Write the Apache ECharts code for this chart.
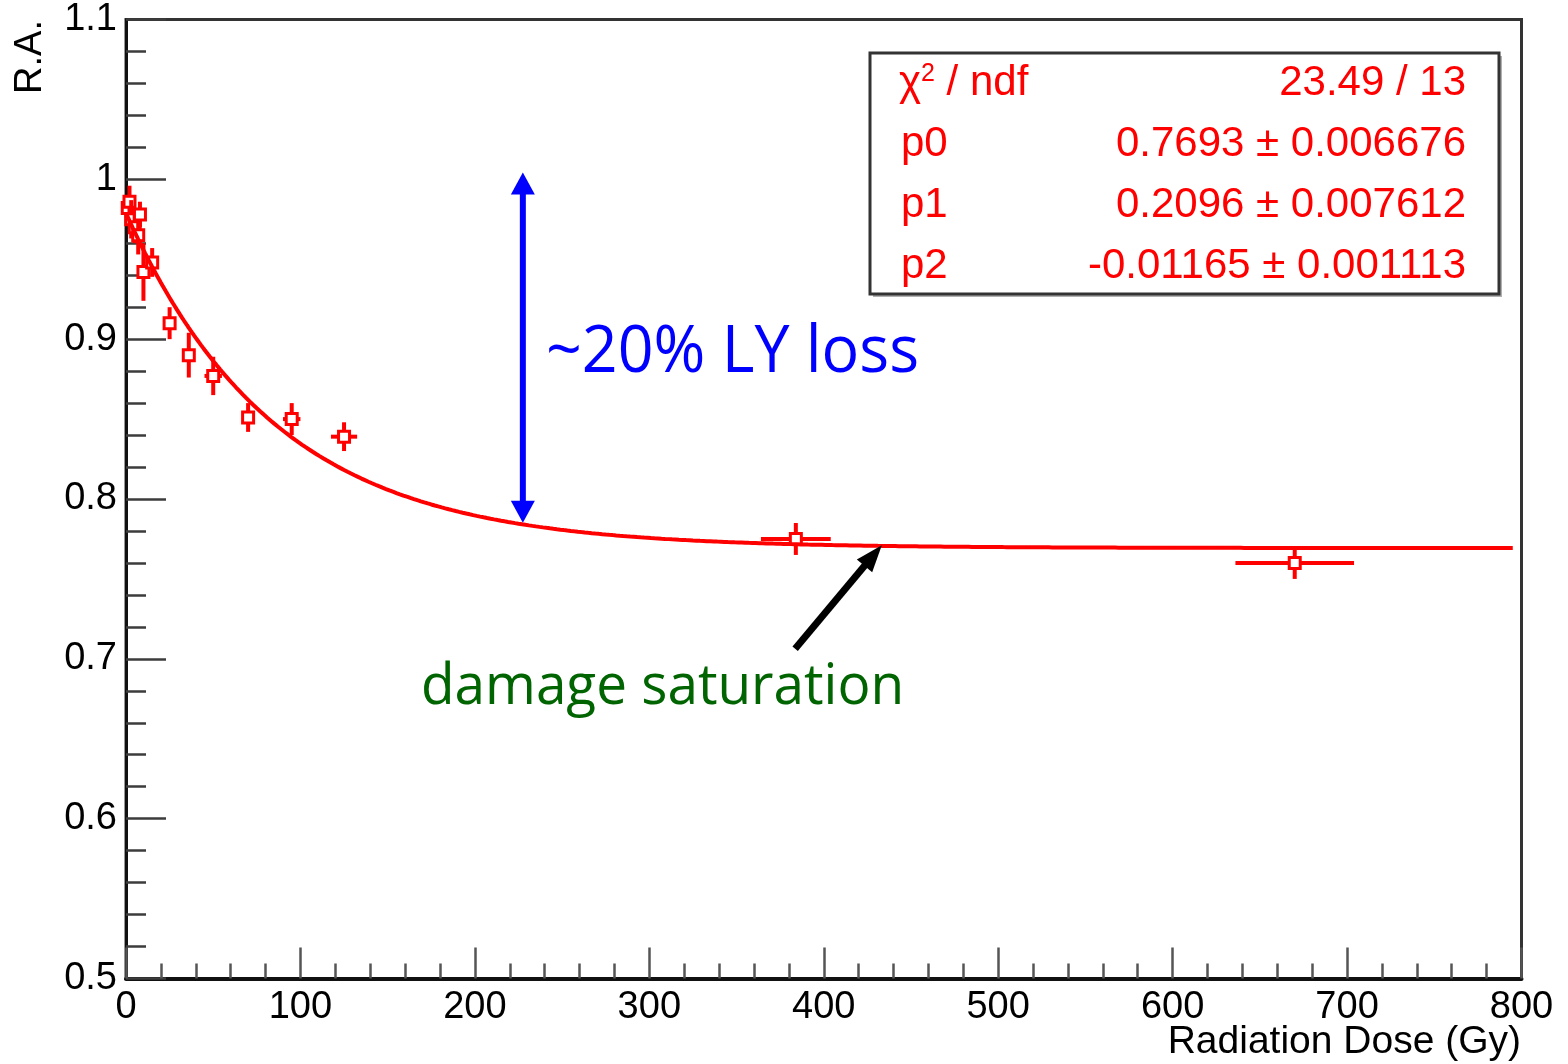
<!DOCTYPE html>
<html>
<head>
<meta charset="utf-8">
<script src="https://cdn.jsdelivr.net/npm/echarts@6/dist/echarts.min.js"></script>
<style>
  html, body { margin: 0; padding: 0; background: #ffffff; }
  #chart { width: 1568px; height: 1064px; }
</style>
</head>
<body>
<div id="chart"></div>
<script>
// Relative amplitude (R.A.) after irradiation, with the saturating exponential fit
const dose    = [1, 2, 3, 5, 7, 8, 10, 15, 25, 36, 50, 70, 95, 125, 384, 670];
const doseErr = [0, 0, 0, 0, 0, 0, 0, 0, 0, 0, 5, 0, 5, 7.5, 20, 34];
const ra      = [0.982, 0.986, 0.975, 0.970, 0.965, 0.978, 0.942, 0.948, 0.910, 0.890, 0.877, 0.851, 0.850, 0.839, 0.775, 0.760];
const raErr   = [0.008, 0.010, 0.012, 0.010, 0.012, 0.008, 0.018, 0.009, 0.010, 0.014, 0.012, 0.009, 0.010, 0.009, 0.010, 0.010];

const xTickLabels = ['0', '100', '200', '300', '400', '500', '600', '700', '800'];
const yTickLabels = ['0.5', '0.6', '0.7', '0.8', '0.9', '1', '1.1'];

// fit: p0 + p1 * exp(p2 * dose)
const fitNames     = ['p0', 'p1', 'p2'];
const fitValues    = [0.7693, 0.2096, -0.01165];
const fitErrors    = [0.006676, 0.007612, 0.001113];
const fitValueText = ['0.7693', '0.2096', '-0.01165'];
const fitErrorText = ['0.006676', '0.007612', '0.001113'];
const chi2Text     = '23.49 / 13';
const fitRange     = [0, 795];

const RED = '#ff0000';

const fitCurve = [];
for (let x = fitRange[0]; x <= fitRange[1]; x += 1) {
  fitCurve.push([x, fitValues[0] + fitValues[1] * Math.exp(fitValues[2] * x)]);
}

const points = dose.map((d, i) => [d, ra[i], doseErr[i], raErr[i]]);

function renderPoint(params, api) {
  const x = api.value(0), y = api.value(1), ex = api.value(2), ey = api.value(3);
  const c = api.coord([x, y]);
  const lo = api.coord([x - ex, y - ey]);
  const hi = api.coord([x + ex, y + ey]);
  const lineStyle = { stroke: RED, lineWidth: 4 };
  const children = [{
    type: 'line', shape: { x1: c[0], y1: lo[1], x2: c[0], y2: hi[1] }, style: lineStyle
  }];
  if (ex > 0) {
    children.push({ type: 'line', shape: { x1: lo[0], y1: c[1], x2: hi[0], y2: c[1] }, style: lineStyle });
  }
  children.push({
    type: 'rect', shape: { x: c[0] - 5.5, y: c[1] - 5.5, width: 11, height: 11 },
    style: { fill: '#ffffff', stroke: RED, lineWidth: 3 }
  });
  return { type: 'group', children };
}

function headPoints(tip, dir, len, halfW) {
  const bx = tip[0] - dir[0] * len, by = tip[1] - dir[1] * len;
  const nx = -dir[1], ny = dir[0];
  return [[tip[0], tip[1]], [bx + nx * halfW, by + ny * halfW], [bx - nx * halfW, by - ny * halfW]];
}

function renderArrows(params, api) {
  // double arrow marking the light-yield loss
  const top = api.coord([227.5, 1.0043]);
  const bot = api.coord([227.5, 0.7851]);
  const blue = '#0000ff';
  // single arrow pointing at the plateau
  const tail = api.coord([383.6, 0.7063]);
  const tip = api.coord([433.3, 0.7711]);
  const dx = tip[0] - tail[0], dy = tip[1] - tail[1];
  const L = Math.sqrt(dx * dx + dy * dy);
  const dir = [dx / L, dy / L];
  const hb = [tip[0] - dir[0] * 22, tip[1] - dir[1] * 22];
  return {
    type: 'group',
    children: [
      { type: 'line', shape: { x1: top[0], y1: top[1] + 18, x2: bot[0], y2: bot[1] - 18 },
        style: { stroke: blue, lineWidth: 6 } },
      { type: 'polygon', shape: { points: headPoints(top, [0, -1], 22, 12) }, style: { fill: blue } },
      { type: 'polygon', shape: { points: headPoints(bot, [0, 1], 22, 12) }, style: { fill: blue } },
      { type: 'line', shape: { x1: tail[0], y1: tail[1], x2: hb[0], y2: hb[1] },
        style: { stroke: '#000000', lineWidth: 7 } },
      { type: 'polygon', shape: { points: headPoints(tip, dir, 27, 10) }, style: { fill: '#000000' } }
    ]
  };
}

const statFont = '"Liberation Sans", Arial, sans-serif';
const statRows = [83, 144, 205, 266];
const statGraphics = [
  { type: 'rect', shape: { x: 873, y: 56, width: 629, height: 241 }, style: { fill: '#b0b0b0' }, z: 100 },
  { type: 'rect', shape: { x: 870, y: 53, width: 629, height: 241 },
    style: { fill: '#ffffff', stroke: '#333333', lineWidth: 3 }, z: 101 },
  { type: 'text', x: 899, y: statRows[0], z: 102,
    style: {
      text: '{c|χ}{s|2}{c| / ndf}',
      rich: {
        c: { fontFamily: statFont, fontSize: 42, fill: RED },
        s: { fontFamily: statFont, fontSize: 25, fill: RED, verticalAlign: 'top', padding: [0, 0, 14, 0] }
      },
      verticalAlign: 'middle'
    } },
  { type: 'text', x: 1466, y: statRows[0], z: 102,
    style: { text: chi2Text, fontFamily: statFont, fontSize: 42, fill: RED, align: 'right', verticalAlign: 'middle' } }
];
fitNames.forEach((name, i) => {
  statGraphics.push({ type: 'text', x: 901, y: statRows[i + 1], z: 102,
    style: { text: name, fontFamily: statFont, fontSize: 42, fill: RED, verticalAlign: 'middle' } });
  statGraphics.push({ type: 'text', x: 1466, y: statRows[i + 1], z: 102,
    style: { text: fitValueText[i] + ' ± ' + fitErrorText[i], fontFamily: statFont, fontSize: 42,
             fill: RED, align: 'right', verticalAlign: 'middle' } });
});

const chart = echarts.init(document.getElementById('chart'), null, { renderer: 'canvas' });

chart.setOption({
  animation: false,
  backgroundColor: '#ffffff',
  grid: {
    left: 126, right: 46.5, top: 19.5, bottom: 85.5,
    show: true, borderColor: '#333333', borderWidth: 3, backgroundColor: 'transparent'
  },
  xAxis: {
    type: 'value', min: 0, max: 800, interval: 100,
    axisLine: { show: true, onZero: false, lineStyle: { color: '#111111', width: 4 } },
    axisTick: { show: true, inside: true, length: 31, lineStyle: { color: '#555555', width: 2.5 } },
    minorTick: { show: true, splitNumber: 5, length: 15, lineStyle: { color: '#555555', width: 2.5 } },
    splitLine: { show: false },
    minorSplitLine: { show: false },
    axisLabel: {
      margin: 10, color: '#000000', fontFamily: statFont, fontSize: 38,
      showMinLabel: true, showMaxLabel: true,
      formatter: (v) => xTickLabels[Math.round(v / 100)]
    }
  },
  yAxis: {
    type: 'value', min: 0.5, max: 1.1, interval: 0.1,
    axisLine: { show: true, onZero: false, lineStyle: { color: '#111111', width: 3 } },
    axisTick: { show: true, inside: true, length: 40, lineStyle: { color: '#3c3c3c', width: 2.5 } },
    minorTick: { show: true, splitNumber: 5, length: 20, lineStyle: { color: '#3c3c3c', width: 2.5 } },
    splitLine: { show: false },
    minorSplitLine: { show: false },
    axisLabel: {
      margin: 9, color: '#000000', fontFamily: statFont, fontSize: 38,
      showMinLabel: true, showMaxLabel: true,
      formatter: (v) => yTickLabels[Math.round((v - 0.5) / 0.1)]
    }
  },
  series: [
    {
      name: 'R.A.', type: 'custom', renderItem: renderPoint, data: points,
      encode: { x: 0, y: 1 }, z: 3
    },
    {
      name: 'fit', type: 'line', data: fitCurve, showSymbol: false, symbol: 'none',
      lineStyle: { color: RED, width: 4 }, z: 4, silent: true
    },
    {
      name: 'annotations', type: 'custom', renderItem: renderArrows, data: [[400, 0.8]],
      encode: { x: 0, y: 1 }, z: 5, silent: true
    }
  ],
  graphic: [
    { type: 'text', x: 546, y: 353, scaleX: 0.95, z: 110,
      style: { text: '~20% LY loss', fontFamily: '"Open Sans", sans-serif', fontSize: 66,
               fill: '#0000ff', verticalAlign: 'middle' } },
    { type: 'text', x: 421, y: 688, scaleX: 0.98, z: 110,
      style: { text: 'damage saturation', fontFamily: '"Open Sans", sans-serif', fontSize: 56,
               fill: '#006400', verticalAlign: 'middle' } },
    { type: 'text', x: 1521, y: 1042, z: 110,
      style: { text: 'Radiation Dose (Gy)', fontFamily: statFont, fontSize: 39,
               fill: '#000000', align: 'right', verticalAlign: 'middle' } },
    { type: 'text', x: 31, y: 20, rotation: Math.PI / 2, z: 110,
      style: { text: 'R.A.', fontFamily: statFont, fontSize: 38,
               fill: '#000000', align: 'right', verticalAlign: 'middle' } }
  ].concat(statGraphics)
});
</script>
</body>
</html>
